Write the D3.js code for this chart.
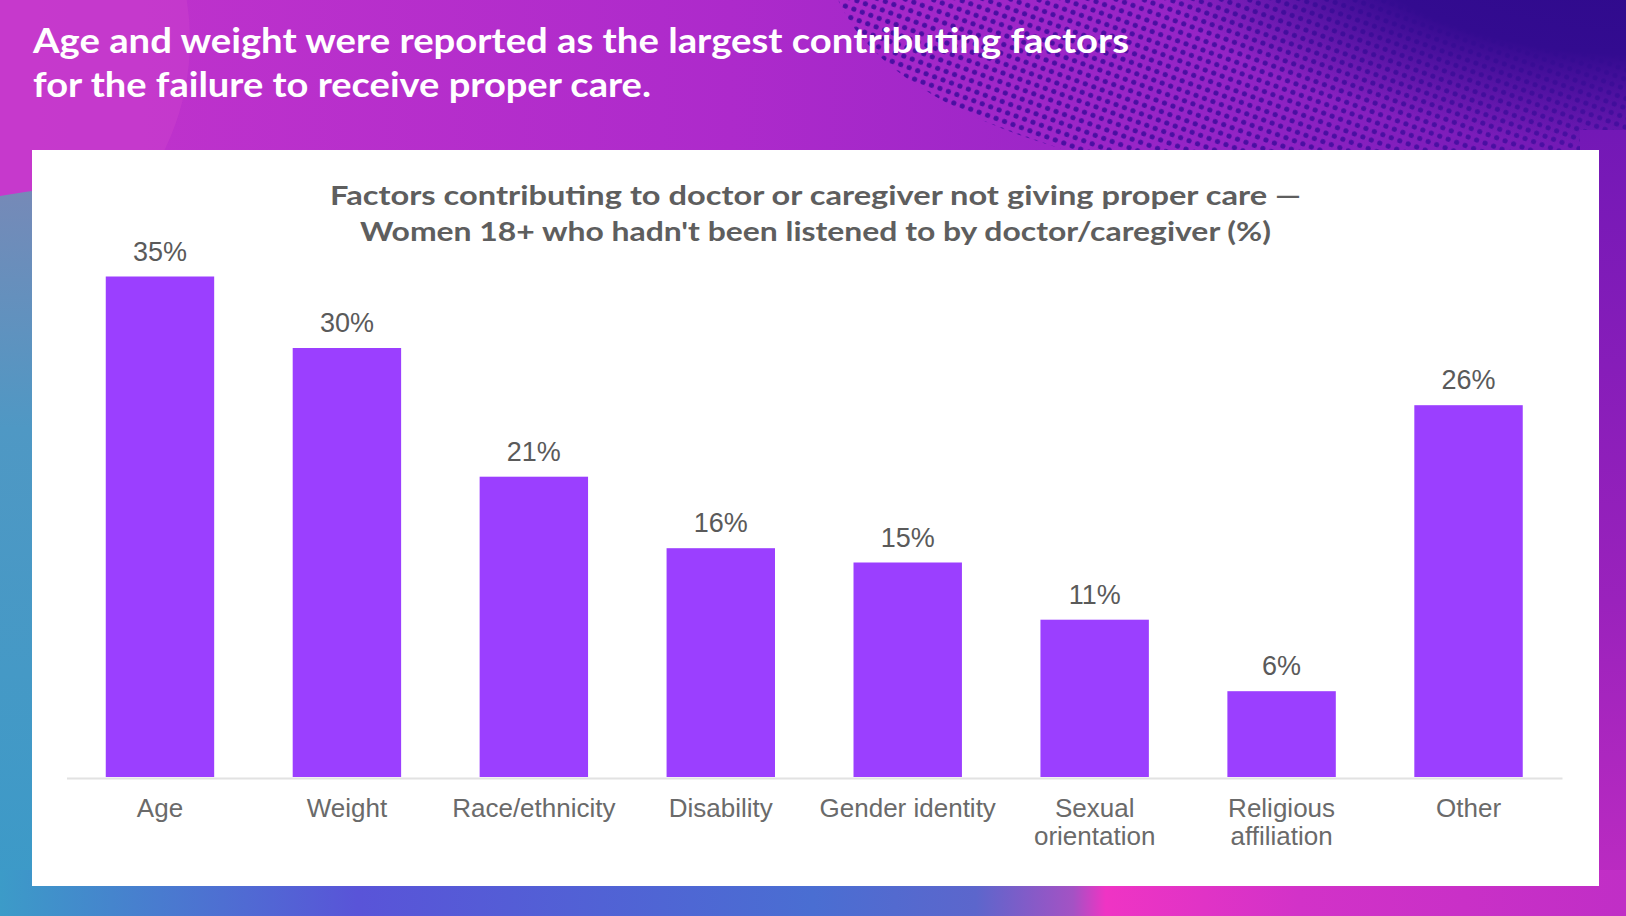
<!DOCTYPE html>
<html>
<head>
<meta charset="utf-8">
<script src="https://cdn.jsdelivr.net/npm/d3@7"></script>
<style>
  html, body { margin: 0; padding: 0; overflow: hidden; background: #b02cc8; }
  svg { display: block; }
</style>
</head>
<body>
<svg id="chart"></svg>
<script>
const W = 1626;
const H = 916;

const categories = ['Age', 'Weight', 'Race/ethnicity', 'Disability', 'Gender identity', 'Sexual orientation', 'Religious affiliation', 'Other'];
const values = [35, 30, 21, 16, 15, 11, 6, 26];
const categoryLines = [['Age'], ['Weight'], ['Race/ethnicity'], ['Disability'], ['Gender identity'], ['Sexual', 'orientation'], ['Religious', 'affiliation'], ['Other']];
const headline = ['Age and weight were reported as the largest contributing factors', 'for the failure to receive proper care.'];
const chartTitle = ['Factors contributing to doctor or caregiver not giving proper care —', 'Women 18+ who hadn\'t been listened to by doctor/caregiver (%)'];

// layout only
const panel = { x: 32, y: 150, w: 1567, h: 736 };
const plot = { left: 66.5, right: 1562, top: 276.5, bottom: 777 };
const headlineWidths = [1096, 618];
const titleWidths = [971, 911];

const svg = d3.select('#chart').attr('width', W).attr('height', H);
const defs = svg.append('defs');

// background gradients
const grad = (id, x2, y2, stops) => {
  const g = defs.append('linearGradient').attr('id', id)
    .attr('x1', 0).attr('y1', 0).attr('x2', x2).attr('y2', y2);
  stops.forEach(([o, c]) => g.append('stop').attr('offset', o).attr('stop-color', c));
};
grad('bgTop', 1, 0, [[0, '#c234cc'], [0.45, '#ad2acb'], [0.75, '#9424c6'], [1, '#6c18b2']]);
grad('bgLeft', 0, 1, [[0, '#7a88b6'], [0.35, '#4f98c4'], [1, '#3b9ac8']]);
grad('bgBottom', 1, 0, [[0, '#3c9bc8'], [0.22, '#5954d8'], [0.5, '#4a6ed2'], [0.6, '#5c66cc'], [0.66, '#a452c4'], [0.68, '#ef34c4'], [0.8, '#d232c8'], [1, '#c02ec6']]);
grad('bgRight', 0, 1, [[0, '#7318b6'], [0.6, '#9a22bc'], [1, '#bf2cc2']]);

const dots = defs.append('pattern').attr('id', 'dots')
  .attr('width', 9).attr('height', 9).attr('patternUnits', 'userSpaceOnUse')
  .attr('patternTransform', 'rotate(20)');
dots.append('circle').attr('cx', 4.5).attr('cy', 4.5).attr('r', 2.6).attr('fill', '#4a0fa2');

const radial = defs.append('radialGradient').attr('id', 'darkCore')
  .attr('cx', 0.72).attr('cy', 0.42).attr('r', 0.55);
radial.append('stop').attr('offset', 0).attr('stop-color', '#2c0a8a');
radial.append('stop').attr('offset', 0.6).attr('stop-color', '#330b90');
radial.append('stop').attr('offset', 1).attr('stop-color', '#3a0c96').attr('stop-opacity', 0);

const bg = svg.append('g');
bg.append('rect').attr('width', W).attr('height', H).attr('fill', 'url(#bgTop)');
bg.append('circle').attr('cx', -60).attr('cy', 40).attr('r', 250)
  .attr('fill', '#c83ccc').attr('opacity', 0.7);
bg.append('ellipse').attr('cx', 1370).attr('cy', -40).attr('rx', 540).attr('ry', 230)
  .attr('fill', 'url(#dots)');
bg.append('ellipse').attr('cx', 1440).attr('cy', -50).attr('rx', 470).attr('ry', 210)
  .attr('fill', 'url(#darkCore)');
bg.append('path').attr('d', 'M0,196 Q120,176 320,166 L320,916 L0,916 Z')
  .attr('fill', 'url(#bgLeft)');
bg.append('rect').attr('x', 1580).attr('y', 130).attr('width', 46).attr('height', 786)
  .attr('fill', 'url(#bgRight)');
bg.append('rect').attr('x', 0).attr('y', 870).attr('width', W).attr('height', 46)
  .attr('fill', 'url(#bgBottom)');

// headline
svg.append('g').selectAll('text')
  .data(headline)
  .enter().append('text')
  .attr('x', 33)
  .attr('y', (d, i) => 53 + i * 44)
  .attr('textLength', (d, i) => headlineWidths[i])
  .attr('lengthAdjust', 'spacingAndGlyphs')
  .attr('fill', '#ffffff')
  .style('font-family', 'Lato, sans-serif')
  .style('font-weight', 700)
  .style('font-size', '34px')
  .text((d) => d);

// white card
svg.append('rect')
  .attr('x', panel.x).attr('y', panel.y)
  .attr('width', panel.w).attr('height', panel.h)
  .attr('fill', '#ffffff');

// chart title
svg.append('g').selectAll('text')
  .data(chartTitle)
  .enter().append('text')
  .attr('x', (d, i) => panel.x + panel.w / 2 - titleWidths[i] / 2)
  .attr('y', (d, i) => 205 + i * 36)
  .attr('textLength', (d, i) => titleWidths[i])
  .attr('lengthAdjust', 'spacingAndGlyphs')
  .attr('fill', '#5e5e5e')
  .style('font-family', 'Lato, sans-serif')
  .style('font-weight', 700)
  .style('font-size', '27px')
  .text((d) => d);

const x = d3.scaleBand()
  .domain(categories)
  .range([plot.left, plot.right])
  .paddingInner(0.42)
  .paddingOuter(0.21);

const y = d3.scaleLinear()
  .domain([0, 35])
  .range([plot.bottom, plot.top]);

// bars
svg.append('g').selectAll('rect')
  .data(values)
  .enter().append('rect')
  .attr('x', (d, i) => x(categories[i]))
  .attr('y', (d) => y(d))
  .attr('width', x.bandwidth())
  .attr('height', (d) => y(0) - y(d))
  .attr('fill', '#9b3fff');

// axis
const axis = svg.append('g')
  .attr('transform', `translate(0, ${plot.bottom + 1})`)
  .call(d3.axisBottom(x).tickSize(0).tickFormat(''));
axis.select('.domain').attr('stroke', '#e2e2e2').attr('stroke-width', 2);

// category labels
const labels = svg.append('g').selectAll('text')
  .data(categoryLines)
  .enter().append('text')
  .attr('text-anchor', 'middle')
  .attr('fill', '#6a6a6a')
  .style('font-family', '"Liberation Sans", Arial, sans-serif')
  .style('font-size', '26px');

labels.selectAll('tspan')
  .data((d, i) => d.map((line) => ({ line, cat: categories[i] })))
  .enter().append('tspan')
  .attr('x', (d) => x(d.cat) + x.bandwidth() / 2)
  .attr('y', (d, j) => 817 + j * 28)
  .text((d) => d.line);

// value labels
svg.append('g').selectAll('text')
  .data(values)
  .enter().append('text')
  .attr('x', (d, i) => x(categories[i]) + x.bandwidth() / 2)
  .attr('y', (d) => y(d) - 16)
  .attr('text-anchor', 'middle')
  .attr('fill', '#5a5a5a')
  .style('font-family', '"Liberation Sans", Arial, sans-serif')
  .style('font-size', '27px')
  .text((d) => `${d}%`);
</script>
</body>
</html>
